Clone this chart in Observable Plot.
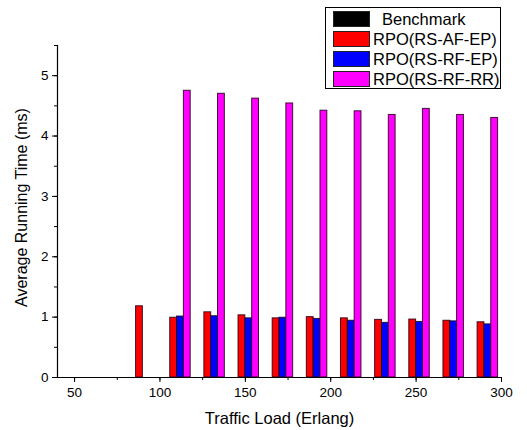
<!DOCTYPE html>
<html>
<head>
<meta charset="utf-8">
<script src="https://cdn.jsdelivr.net/npm/d3@7"></script>
<script src="https://cdn.jsdelivr.net/npm/@observablehq/plot@0.6"></script>
<style>
  html, body { margin: 0; padding: 0; background: #fff; }
  #wrap { position: relative; width: 527px; height: 430px; font-family: "Liberation Sans", Arial, sans-serif; }
  #legend { position: absolute; left: 325px; top: 7px; width: 176px; height: 82px; border: 1px solid #000; background: #fff; box-sizing: border-box; }
  .row { position: absolute; left: 0; height: 20px; display: flex; align-items: center; }
  .sw { position: absolute; left: 7px; width: 37px; height: 16px; border: 1px solid #222; box-sizing: border-box; }
  .lab { position: absolute; left: 47px; font-size: 16.5px; line-height: 20px; white-space: nowrap; color: #000; }
</style>
</head>
<body>
<div id="wrap"></div>
<script>
const loads = [50, 70, 90, 110, 130, 150, 170, 190, 210, 230, 250, 270, 290];
const seriesNames = ["Benchmark", "RPO(RS-AF-EP)", "RPO(RS-RF-EP)", "RPO(RS-RF-RR)"];
const seriesColors = ["#000000", "#ff0000", "#0000ff", "#ff00ff"];
const benchmark = [0, 0, 0, 0, 0, 0, 0, 0, 0, 0, 0, 0, 0];
const rsAfEp = [0, 0, 1.18, 0.99, 1.08, 1.03, 0.98, 1.00, 0.98, 0.955, 0.96, 0.94, 0.915];
const rsRfEp = [0, 0, 0, 1.01, 1.015, 0.98, 0.99, 0.97, 0.94, 0.905, 0.92, 0.93, 0.88];
const rsRfRr = [0, 0, 0, 4.75, 4.70, 4.62, 4.54, 4.42, 4.41, 4.35, 4.45, 4.35, 4.30];
const xTicks = [50, 100, 150, 200, 250, 300];
const yTicks = [0, 1, 2, 3, 4, 5];

const seriesValues = [benchmark, rsAfEp, rsRfEp, rsRfRr];
const rows = [];
loads.forEach((load, i) => {
  seriesValues.forEach((vals, s) => {
    rows.push({load, s, series: seriesNames[s], value: vals[i]});
  });
});
const barW = 4;
const x1 = d => d.load - 2 * barW + d.s * barW;
const x2 = d => d.load - 2 * barW + (d.s + 1) * barW;

const chart = Plot.plot({
  width: 527,
  height: 430,
  marginLeft: 57,
  marginRight: 26,
  marginTop: 45,
  marginBottom: 53,
  style: {fontFamily: "Liberation Sans, Arial, sans-serif", fontSize: "13px", background: "#fff"},
  x: {domain: [40, 300], label: null},
  y: {domain: [0, 5.5], label: null},
  color: {domain: seriesNames, range: seriesColors},
  marks: [
    Plot.rectY(rows.filter(d => d.value > 0), {x1, x2, y1: 0, y2: "value", fill: "series", stroke: "#200010", strokeWidth: 1, strokeOpacity: 0.85}),
    Plot.ruleX([40], {stroke: "#000", strokeWidth: 1.2}),
    Plot.ruleY([0], {stroke: "#000", strokeWidth: 1.2}),
    Plot.axisY(d3.range(0, 5.51, 0.5), {tickSize: 3, text: null, stroke: "#000"}),
    Plot.axisY(yTicks, {tickSize: 5, tickPadding: 4, fontSize: 13.5, fill: "#000", stroke: "#000", tickFormat: d3.format("d")}),
    Plot.axisX(d3.range(50, 301, 25), {tickSize: 3, text: null, stroke: "#000"}),
    Plot.axisX(xTicks, {tickSize: 5, tickPadding: 5, fontSize: 13.5, fill: "#000", stroke: "#000", tickFormat: d3.format("d")}),
    Plot.text(["Traffic Load (Erlang)"], {frameAnchor: "bottom", dy: 46, fontSize: 16.5, fill: "#000"}),
    Plot.text(["Average Running Time (ms)"], {frameAnchor: "left", dx: -36, dy: -4, rotate: -90, textAnchor: "middle", fontSize: 16, fill: "#000"})
  ]
});
const wrap = document.getElementById("wrap");
wrap.appendChild(chart);

const legend = document.createElement("div");
legend.id = "legend";
seriesNames.forEach((name, i) => {
  const row = document.createElement("div");
  row.className = "row";
  row.style.top = (1 + i * 20) + "px";
  const sw = document.createElement("div");
  sw.className = "sw";
  sw.style.background = seriesColors[i];
  sw.style.top = "2px";
  const lab = document.createElement("div");
  lab.className = "lab";
  lab.textContent = name;
  if (i === 0) lab.style.left = "56px";
  row.appendChild(sw);
  row.appendChild(lab);
  legend.appendChild(row);
});
wrap.appendChild(legend);
</script>
</body>
</html>
